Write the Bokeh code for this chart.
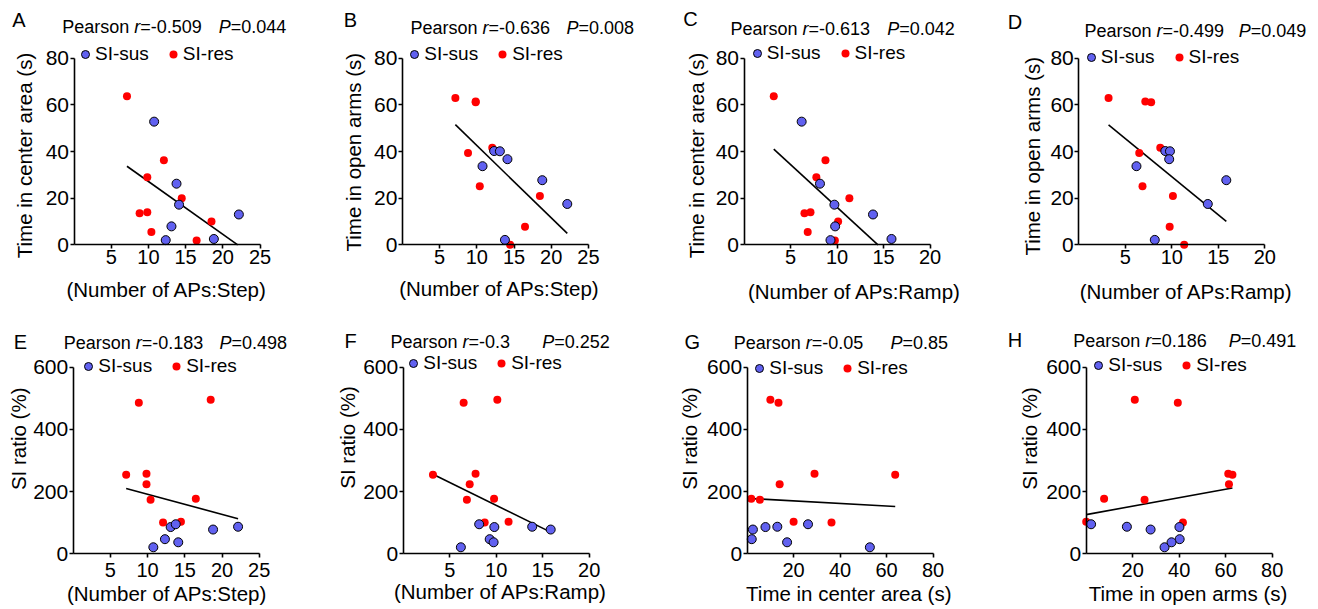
import numpy as np
from bokeh.plotting import figure
from bokeh.models import Range1d, FixedTicker, Label, Legend, LegendItem
from bokeh.layouts import row, column
from bokeh.embed import file_html
from bokeh.resources import INLINE

# ---------------- data (one entry per mouse) ----------------
# SI-susceptible mice
sus_step   = [10.77, 12.33, 13.10, 13.78, 14.12, 18.80, 22.16]
sus_ramp   = [6.20, 9.30, 9.80, 8.17, 9.72, 15.86, 13.87]
sus_center = [52.8, 2.0, 7.9, 26.2, 17.2, 2.5, 13.0]
sus_open   = [33.7, 40.2, 40.1, 2.1, 36.7, 27.7, 17.5]
sus_si     = [21, 47, 86, 95, 37, 78, 87]
# SI-resilient mice
res_step   = [7.12, 8.82, 9.85, 9.85, 10.40, 12.08, 14.48, 16.48, 18.48]
res_ramp   = [3.20, 6.50, 7.78, 7.15, 6.85, 8.76, 11.33, 9.77, 10.12]
res_center = [63.7, 13.5, 29.0, 14.0, 5.5, 36.3, 20.0, 1.8, 10.0]
res_open   = [62.9, 39.4, 61.1, 61.4, 25.1, 41.6, 0.0, 7.7, 20.9]
res_si     = [254, 486, 257, 224, 174, 101, 103, 177, 495]

panel_letters = ["A", "B", "C", "D", "E", "F", "G", "H"]
pearson_r = ["-0.509", "-0.636", "-0.613", "-0.499", "-0.183", "-0.3", "-0.05", "0.186"]
pearson_p = ["0.044", "0.008", "0.042", "0.049", "0.498", "0.252", "0.85", "0.491"]
x_keys = ["step", "step", "ramp", "ramp", "step", "ramp", "center", "open"]
y_keys = ["center", "open", "center", "open", "si", "si", "si", "si"]
x_titles = ["(Number of APs:Step)", "(Number of APs:Step)", "(Number of APs:Ramp)",
            "(Number of APs:Ramp)", "(Number of APs:Step)", "(Number of APs:Ramp)",
            "Time in center area (s)", "Time in open arms (s)"]
y_titles = ["Time in center area (s)", "Time in open arms (s)", "Time in center area (s)",
            "Time in open arms (s)", "SI ratio (%)", "SI ratio (%)", "SI ratio (%)", "SI ratio (%)"]
x_ticks_step = [5, 10, 15, 20, 25]
x_ticks_ramp = [5, 10, 15, 20]
x_ticks_time = [20, 40, 60, 80]
y_ticks_time = [0, 20, 40, 60, 80]
y_ticks_si = [0, 200, 400, 600]
legend_labels = ["SI-sus", "SI-res"]

SUS = dict(step=sus_step, ramp=sus_ramp, center=sus_center, open=sus_open, si=sus_si)
RES = dict(step=res_step, ramp=res_ramp, center=res_center, open=res_open, si=res_si)
X_TICKS = dict(step=x_ticks_step, ramp=x_ticks_ramp, center=x_ticks_time, open=x_ticks_time)
Y_TICKS = dict(center=y_ticks_time, open=y_ticks_time, si=y_ticks_si)

# ---------------- layout / style (page pixels) ----------------
FONT = "Liberation Sans"
BLUE = "#6161F0"
RED = "#FF0000"
AXW, AXH = 186.0, 186.6            # axis lengths in px
COLS = [(0, 336), (336, 666), (666, 996), (996, 1310)]
ROWS = [(0, 308), (308, 608)]
AX_LEFT = [73.5, 401.9, 743.5, 1078.3, 72.7, 402.7, 746.6, 1085.7]
AX_BOTTOM = [244.3, 553.3]
GW = 20
BASE_SHIFT = 0.34                  # em correction for alphabetic baseline labels

LETTER_POS = [(11.7, 26.7), (343.3, 26.7), (682.7, 25), (1007.3, 28.3),
              (13.3, 348.3), (344, 347.7), (684, 348.3), (1007.3, 346.7)]
TITLE_POS = [(61.7, 218.3, 32.3), (410, 566, 33.3), (730, 886.7, 35), (1084, 1238.3, 36.7),
             (63.3, 219, 348.3), (390, 541.7, 347.5), (733.3, 890, 348.3), (1072.7, 1228.3, 346.7)]
LEGEND_POS = [(85, 54.3), (414.3, 54.3), (756.7, 52.7), (1090.7, 57.3),
              (88.3, 365.7), (413.3, 362.7), (759.3, 367.7), (1098.3, 365)]
YTITLE_POS = [(24, 155), (352.5, 151.7), (695.8, 155), (1031.7, 155.8),
              (18.3, 438.3), (346.7, 437), (689.3, 438), (1029.3, 438)]
XTITLE_POS = [(166.2, 296), (499, 295), (854, 298), (1185.7, 298),
              (166.7, 600), (500, 598), (848.3, 600), (1187.5, 600)]

ADV = {'P': 667, 'e': 556, 'a': 556, 'r': 333, 's': 500, 'o': 556, 'n': 556, ' ': 278,
       '=': 584, '-': 333, '.': 278}


def tw(s, size):
    return sum(ADV.get(c, 556) for c in s) * size / 1000.0


def make_panel(i):
    r, c = divmod(i, 4)
    xk, yk = x_keys[i], y_keys[i]
    xt, yt = X_TICKS[xk], Y_TICKS[yk]
    x0, x1 = 0.0, float(xt[-1])
    ymax = float(yt[-1])
    cx0, cx1 = COLS[c]
    ry0, ry1 = ROWS[r]
    al, ab = AX_LEFT[i], AX_BOTTOM[r]
    sx = (x1 - x0) / AXW
    sy = ymax / AXH

    xr = Range1d(x0 - (al - cx0) * sx, x0 + (cx1 - al) * sx)
    yr = Range1d(-(ry1 - ab) * sy, (ab - ry0) * sy)

    p = figure(width=cx1 - cx0, height=ry1 - ry0, output_backend="svg",
               toolbar_location=None, x_range=xr, y_range=yr, min_border=0)
    p.outline_line_color = None
    p.grid.visible = False
    p.background_fill_color = "white"
    p.border_fill_color = "white"

    xa, ya = p.xaxis[0], p.yaxis[0]
    xa.fixed_location = 0
    ya.fixed_location = x0
    xa.bounds = (x0, x1)
    ya.bounds = (0, ymax)
    for ax, ticks in ((xa, xt), (ya, yt)):
        ax.ticker = FixedTicker(ticks=ticks)
        ax.axis_line_width = 1.6
        ax.axis_line_color = "black"
        ax.major_tick_line_width = 1.6
        ax.major_tick_line_color = "black"
        ax.major_tick_out = 4
        ax.major_tick_in = 0
        ax.minor_tick_line_color = None
        ax.major_label_text_font = FONT
        ax.major_label_text_color = "black"
    xa.major_label_text_font_size = "20px"
    ya.major_label_text_font_size = "21px"
    ya.major_label_standoff = 1
    xa.major_label_standoff = 1 if r == 0 else 5

    # regression line through all mice, kept above y = 0
    xs_all = np.array(SUS[xk] + RES[xk], dtype=float)
    ys_all = np.array(SUS[yk] + RES[yk], dtype=float)
    k, b = np.polyfit(xs_all, ys_all, 1)
    lo, hi = xs_all.min(), xs_all.max()
    if k * hi + b < 0:
        hi = -b / k
    if k * lo + b < 0:
        lo = -b / k
    lx = np.array([lo, hi])
    p.line(lx, k * lx + b, line_color="black", line_width=1.6)

    red_r = p.scatter(RES[xk], RES[yk], size=8, fill_color=RED, line_color=None)
    blue_r = p.scatter(SUS[xk], SUS[yk], size=9, fill_color=BLUE, line_color="black",
                       line_width=1)

    def dx(px):
        return x0 + (px - al) * sx

    def dy(py):
        return (ab - py) * sy

    def lab(px, py, text, size, style="normal", align="left", baseline="alphabetic", angle=0.0):
        if baseline == "alphabetic":
            py = py - BASE_SHIFT * size
        p.add_layout(Label(x=dx(px), y=dy(py), text=text, text_font=FONT,
                           text_font_size=f"{size}px", text_font_style=style,
                           text_align=align, text_baseline=baseline, angle=angle,
                           text_color="black"))

    lx0, ly0 = LETTER_POS[i]
    lab(lx0, ly0, panel_letters[i], 20)
    tx, tpx, ty = TITLE_POS[i]
    TS = 18
    lab(tx, ty, "Pearson ", TS)
    x_r = tx + tw("Pearson ", TS)
    lab(x_r, ty, "r", TS, style="italic")
    lab(x_r + tw("r", TS), ty, "=" + pearson_r[i], TS)
    lab(tpx, ty, "P", TS, style="italic")
    lab(tpx + tw("P", TS), ty, "=" + pearson_p[i], TS)
    yx, yy = YTITLE_POS[i]
    lab(yx, yy, y_titles[i], 20.5, align="center", baseline="middle", angle=float(np.pi / 2))
    xx, xy = XTITLE_POS[i]
    lab(xx, xy, x_titles[i], 20.5, align="center")

    bx, by = LEGEND_POS[i]
    legend = Legend(items=[LegendItem(label=legend_labels[0], renderers=[blue_r]),
                           LegendItem(label=legend_labels[1], renderers=[red_r])],
                    orientation="horizontal",
                    location=(bx - cx0 - GW / 2, ry1 - (by + 11)),
                    glyph_width=GW, glyph_height=22, label_height=22, label_width=10,
                    label_standoff=-2, spacing=14, padding=0, margin=0,
                    border_line_color=None, background_fill_alpha=0,
                    label_text_font=FONT, label_text_font_size="19px",
                    label_text_color="black")
    p.add_layout(legend)
    return p


panels = [make_panel(i) for i in range(8)]
layout = column(row(*panels[:4]), row(*panels[4:]))
open("out.html", "w").write(file_html(layout, INLINE))
